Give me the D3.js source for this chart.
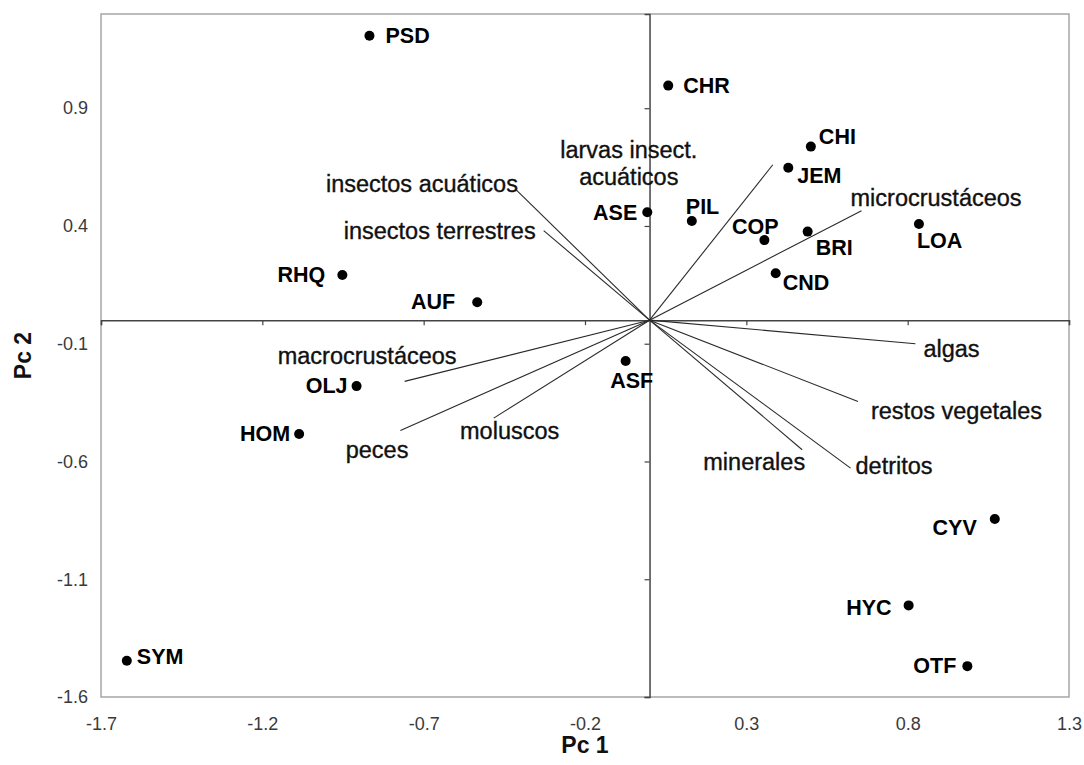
<!DOCTYPE html>
<html>
<head>
<meta charset="utf-8">
<script src="https://cdn.jsdelivr.net/npm/d3@7/dist/d3.min.js"></script>
<style>
  html, body { margin: 0; padding: 0; background: #fff; }
  svg { display: block; font-family: "Liberation Sans", Arial, sans-serif; }
</style>
</head>
<body>
<svg id="chart" width="1084" height="765"></svg>
<script>
// ---- Data ----
const species = ["PSD","CHR","CHI","JEM","ASE","PIL","COP","BRI","CND","LOA","RHQ","AUF","ASF","OLJ","HOM","SYM","CYV","HYC","OTF"];
const pc1 = [-0.868, 0.058, 0.500, 0.430, -0.007, 0.131, 0.356, 0.490, 0.391, 0.835, -0.952, -0.534, -0.074, -0.908, -1.086, -1.620, 1.070, 0.803, 0.985];
const pc2 = [1.208, 0.996, 0.737, 0.647, 0.458, 0.421, 0.340, 0.376, 0.199, 0.408, 0.192, 0.076, -0.173, -0.280, -0.483, -1.446, -0.844, -1.211, -1.469];

const variables = ["insectos acuáticos","insectos terrestres","larvas insect. acuáticos","microcrustáceos","algas","restos vegetales","detritos","minerales","moluscos","peces","macrocrustáceos"];
const load1 = [-0.414, -0.328, 0.382, 0.657, 0.824, 0.646, 0.623, 0.473, -0.483, -0.772, -0.759];
const load2 = [0.554, 0.380, 0.660, 0.465, -0.100, -0.345, -0.628, -0.550, -0.416, -0.468, -0.260];

const xTicks = [-1.7, -1.2, -0.7, -0.2, 0.3, 0.8, 1.3];
const yTicks = [-1.6, -1.1, -0.6, -0.1, 0.4, 0.9];
const xTitle = "Pc 1";
const yTitle = "Pc 2";

// ---- Label layout (offsets in px from the mark) ----
const speciesLabelLayout = {
  PSD: {anchor:"start", dx:16, dy:0},
  CHR: {anchor:"start", dx:15, dy:0},
  CHI: {anchor:"start", dx:8, dy:-10},
  JEM: {anchor:"start", dx:9, dy:8},
  ASE: {anchor:"end", dx:-10, dy:1},
  PIL: {anchor:"start", dx:-6, dy:-14},
  COP: {anchor:"middle", dx:-9, dy:-13},
  BRI: {anchor:"start", dx:8, dy:16},
  CND: {anchor:"start", dx:7, dy:10},
  LOA: {anchor:"start", dx:-2, dy:17},
  RHQ: {anchor:"end", dx:-17, dy:0},
  AUF: {anchor:"end", dx:-22, dy:0},
  ASF: {anchor:"middle", dx:6, dy:20},
  OLJ: {anchor:"end", dx:-9, dy:0},
  HOM: {anchor:"end", dx:-9, dy:0},
  SYM: {anchor:"start", dx:10, dy:-4},
  CYV: {anchor:"end", dx:-18, dy:9},
  HYC: {anchor:"end", dx:-17, dy:3},
  OTF: {anchor:"end", dx:-11, dy:0}
};
const varLabelLayout = {
  "insectos acuáticos": {anchor:"end", dx:2, dy:-6},
  "insectos terrestres": {anchor:"end", dx:-8, dy:0},
  "larvas insect. acuáticos": {anchor:"middle", dx:-144, dy:-15, lines:["larvas insect.","acuáticos"], lh:27},
  "microcrustáceos": {anchor:"start", dx:-11, dy:-13},
  "algas": {anchor:"start", dx:8, dy:5},
  "restos vegetales": {anchor:"start", dx:13, dy:10},
  "detritos": {anchor:"start", dx:5, dy:-2},
  "minerales": {anchor:"end", dx:3, dy:12},
  "moluscos": {anchor:"middle", dx:16, dy:13},
  "peces": {anchor:"end", dx:8, dy:20},
  "macrocrustáceos": {anchor:"end", dx:52, dy:-25}
};

// ---- Layout ----
const svg = d3.select("#chart");
const pLeft = 101, pRight = 1069, pTop = 14, pBottom = 697;
const x = d3.scaleLinear().domain([-1.7, 1.3]).range([pLeft, pRight]);
const y = d3.scaleLinear().domain([-1.6, 1.3]).range([pBottom, pTop]);
const fmt = d => d3.format(".1f")(d).replace("\u2212", "-");

// plot border
svg.append("rect")
  .attr("x", pLeft).attr("y", pTop)
  .attr("width", pRight - pLeft).attr("height", pBottom - pTop)
  .attr("fill", "none").attr("stroke", "#a6a6a6").attr("stroke-width", 1.5);

// zero axes with ticks
const xAxisZero = d3.axisBottom(x).tickValues(xTicks).tickSize(5).tickFormat("");
const gx0 = svg.append("g").attr("transform", `translate(0,${y(0)})`).call(xAxisZero);
gx0.select(".domain").attr("stroke", "#444").attr("stroke-width", 1.5);
gx0.selectAll(".tick line").attr("stroke", "#444").attr("stroke-width", 1.2);

const yAxisZero = d3.axisLeft(y).tickValues(yTicks).tickSize(5).tickFormat("");
const gy0 = svg.append("g").attr("transform", `translate(${x(0)},0)`).call(yAxisZero);
gy0.select(".domain").attr("stroke", "#444").attr("stroke-width", 1.5);
gy0.selectAll(".tick line").attr("stroke", "#444").attr("stroke-width", 1.2);

// tick labels on the outer frame
const xLab = d3.axisBottom(x).tickValues(xTicks).tickSize(0).tickPadding(20).tickFormat(fmt);
const gxl = svg.append("g").attr("transform", `translate(0,${pBottom})`).call(xLab);
gxl.select(".domain").remove();
gxl.selectAll("text").attr("font-size", 18).attr("fill", "#3a3a3a").attr("font-family", "Liberation Sans, Arial, sans-serif");

const yLab = d3.axisLeft(y).tickValues(yTicks).tickSize(0).tickPadding(13).tickFormat(fmt);
const gyl = svg.append("g").attr("transform", `translate(${pLeft},0)`).call(yLab);
gyl.select(".domain").remove();
gyl.selectAll("text").attr("font-size", 18).attr("fill", "#3a3a3a").attr("font-family", "Liberation Sans, Arial, sans-serif");

// axis titles
svg.append("text").attr("x", (pLeft + pRight) / 2).attr("y", 753)
  .attr("text-anchor", "middle")
  .attr("font-size", 23).attr("font-weight", "bold").attr("fill", "#111").text(xTitle);
svg.append("text").attr("transform", `translate(31,${(pTop + pBottom) / 2}) rotate(-90)`)
  .attr("text-anchor", "middle")
  .attr("font-size", 23).attr("font-weight", "bold").attr("fill", "#111").text(yTitle);

// vectors
const vars = variables.map((v, i) => ({name: v, a: load1[i], b: load2[i]}));
svg.append("g").selectAll("line").data(vars).join("line")
  .attr("x1", x(0)).attr("y1", y(0))
  .attr("x2", d => x(d.a)).attr("y2", d => y(d.b))
  .attr("stroke", "#2a2a2a").attr("stroke-width", 1.1);

const vl = svg.append("g").selectAll("text").data(vars).join("text")
  .attr("font-size", 23.5).attr("fill", "#111")
  .attr("stroke", "#111").attr("stroke-width", 0.35)
  .attr("text-anchor", d => varLabelLayout[d.name].anchor)
  .attr("dominant-baseline", "central");
vl.each(function(d) {
  const L = varLabelLayout[d.name];
  const t = d3.select(this);
  const bx = x(d.a) + L.dx, by = y(d.b) + L.dy;
  if (L.lines) {
    L.lines.forEach((s, k) => {
      t.append("tspan").attr("x", bx).attr("y", by + k * L.lh).text(s);
    });
  } else {
    t.attr("x", bx).attr("y", by).text(d.name);
  }
});

// points
const pts = species.map((s, i) => ({name: s, a: pc1[i], b: pc2[i]}));
svg.append("g").selectAll("circle").data(pts).join("circle")
  .attr("cx", d => x(d.a)).attr("cy", d => y(d.b)).attr("r", 5).attr("fill", "#000");

svg.append("g").selectAll("text").data(pts).join("text")
  .attr("x", d => x(d.a) + speciesLabelLayout[d.name].dx)
  .attr("y", d => y(d.b) + speciesLabelLayout[d.name].dy)
  .attr("text-anchor", d => speciesLabelLayout[d.name].anchor)
  .attr("dominant-baseline", "central")
  .attr("font-size", 21.5).attr("font-weight", "bold").attr("fill", "#000")
  .text(d => d.name);
</script>
</body>
</html>
